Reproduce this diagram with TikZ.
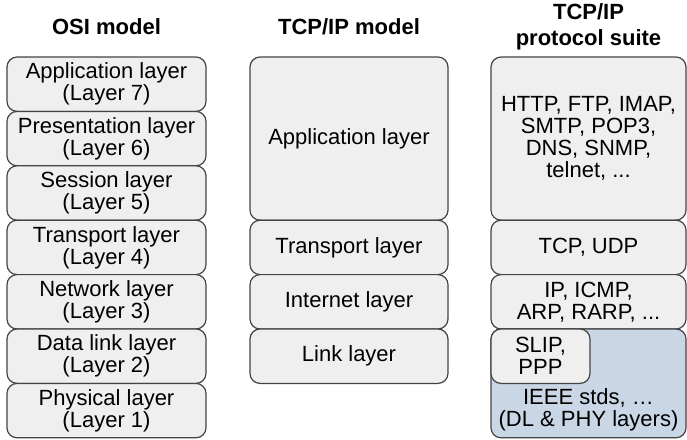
\documentclass[tikz,border=0pt]{standalone}
\usepackage{fontspec}
\setmainfont{Liberation Sans}
\definecolor{boxgray}{RGB}{239,239,239}
\definecolor{edgegray}{RGB}{68,68,68}
\definecolor{stdblue}{RGB}{201,214,230}
\tikzstyle{layer} = [draw=edgegray,fill=boxgray,rounded corners=10pt,line width=1.2pt,align=center,inner sep=0pt,font=\fontsize{22}{22}\selectfont]
\tikzstyle{stds} = [layer,fill=stdblue]
\tikzstyle{heading} = [align=center,font=\bfseries\fontsize{22}{26}\selectfont]
\tikzstyle{plain} = [align=center,inner sep=0pt,font=\fontsize{22}{22}\selectfont]
\begin{document}
\begin{tikzpicture}[x=1pt,y=-1pt]
\useasboundingbox (0,0) rectangle (687,439);

\node[heading] (hosi) at (106.5,27) {OSI model};
\node[heading] (htcp) at (349,27) {TCP/IP model};
\node[heading] (hsuite) at (588.5,26.5) {TCP/IP\\protocol suite};

\node[layer,minimum width=199pt,minimum height=54.4pt] (osi7) at (106.5,84.2) {Application layer\\(Layer 7)};
\node[layer,minimum width=199pt,minimum height=54.4pt] (osi6) at (106.5,138.6) {Presentation layer\\(Layer 6)};
\node[layer,minimum width=199pt,minimum height=54.4pt] (osi5) at (106.5,193.0) {Session layer\\(Layer 5)};
\node[layer,minimum width=199pt,minimum height=54.4pt] (osi4) at (106.5,247.4) {Transport layer\\(Layer 4)};
\node[layer,minimum width=199pt,minimum height=54.4pt] (osi3) at (106.5,301.8) {Network layer\\(Layer 3)};
\node[layer,minimum width=199pt,minimum height=54.4pt] (osi2) at (106.5,356.2) {Data link layer\\(Layer 2)};
\node[layer,minimum width=199pt,minimum height=54.4pt] (osi1) at (106.5,410.6) {Physical layer\\(Layer 1)};

\node[layer,minimum width=198pt,minimum height=163.2pt] (tapp) at (349,138.6) {Application layer};
\node[layer,minimum width=198pt,minimum height=54.4pt] (ttrans) at (349,247.4) {Transport layer};
\node[layer,minimum width=198pt,minimum height=54.4pt] (tinet) at (349,301.8) {Internet layer};
\node[layer,minimum width=198pt,minimum height=54.4pt] (tlink) at (349,356.2) {Link layer};

\node[layer,minimum width=195pt,minimum height=163.2pt] (papp) at (588.5,138.6) {HTTP, FTP, IMAP,\\SMTP, POP3,\\DNS, SNMP,\\telnet, ...};
\node[layer,minimum width=195pt,minimum height=54.4pt] (ptrans) at (588.5,247.4) {TCP, UDP};
\node[layer,minimum width=195pt,minimum height=54.4pt] (pinet) at (588.5,301.8) {IP, ICMP,\\ARP, RARP, ...};
\node[stds,minimum width=195pt,minimum height=108.8pt] (plink) at (588.5,383.4) {};
\node[layer,minimum width=99pt,minimum height=54.4pt] (pslip) at (540.5,356.2) {SLIP,\\PPP};
\node[plain] (ieee) at (588.5,410) {IEEE stds, …\\(DL \& PHY layers)};

\end{tikzpicture}
\end{document}
